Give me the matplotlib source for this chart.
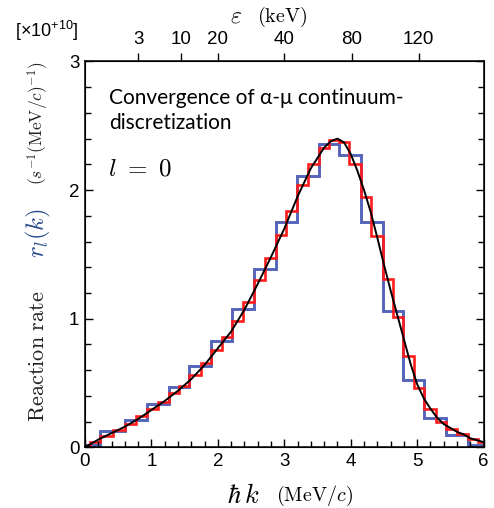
import matplotlib
matplotlib.use("Agg")
import matplotlib.pyplot as plt
from matplotlib.ticker import MultipleLocator

# smooth (converged) reaction rate
k_curve = [0.0, 0.2, 0.4, 0.6, 0.8, 1.0, 1.2, 1.4, 1.6, 1.8, 2.0, 2.2, 2.4, 2.6,
           2.8, 3.0, 3.2, 3.4, 3.6, 3.7, 3.8, 3.9, 4.0, 4.1, 4.2, 4.3, 4.4, 4.5,
           4.6, 4.7, 4.8, 4.9, 5.0, 5.1, 5.2, 5.3, 5.4, 5.5, 5.6, 5.7, 5.8, 5.9, 6.0]
r_curve = [0.0, 0.06, 0.11, 0.16, 0.22, 0.29, 0.36, 0.44, 0.53, 0.64, 0.77, 0.90,
           1.07, 1.27, 1.48, 1.70, 1.95, 2.17, 2.33, 2.38, 2.40, 2.37, 2.28, 2.15,
           2.00, 1.83, 1.63, 1.42, 1.22, 1.03, 0.84, 0.65, 0.49, 0.38, 0.30, 0.23,
           0.18, 0.15, 0.12, 0.10, 0.07, 0.055, 0.04]

# coarse discretization (blue)
blue_edges = [0.0, 0.23, 0.60, 0.93, 1.27, 1.57, 1.90, 2.22, 2.54, 2.88, 3.19,
              3.52, 3.82, 4.15, 4.48, 4.79, 5.11, 5.44, 5.76, 6.0]
blue_rate = [0.02, 0.13, 0.21, 0.34, 0.47, 0.63, 0.83, 1.075, 1.385, 1.75, 2.11,
             2.36, 2.27, 1.75, 1.06, 0.525, 0.227, 0.093, 0.02]

# fine discretization (red)
red_edges = [0.0, 0.07, 0.23, 0.42, 0.60, 0.77, 0.93, 1.10, 1.27, 1.42, 1.57,
             1.74, 1.90, 2.06, 2.22, 2.38, 2.54, 2.71, 2.88, 3.03, 3.19, 3.36,
             3.52, 3.67, 3.82, 3.98, 4.15, 4.31, 4.48, 4.63, 4.79, 4.95, 5.11,
             5.28, 5.44, 5.60, 5.76, 5.92, 6.0]
red_rate = [0.01, 0.045, 0.09, 0.135, 0.185, 0.24, 0.295, 0.355, 0.42, 0.48,
            0.56, 0.655, 0.76, 0.86, 0.98, 1.13, 1.30, 1.47, 1.65, 1.84, 2.04,
            2.20, 2.33, 2.39, 2.37, 2.20, 1.95, 1.64, 1.31, 1.01, 0.71, 0.46,
            0.30, 0.20, 0.14, 0.10, 0.065, 0.045]

# top axis: energy labels
top_pos = [0.80, 1.445, 2.0, 2.99, 4.02, 5.02]
top_lab = ["3", "10", "20", "40", "80", "120"]

plt.rcParams["mathtext.fontset"] = "cm"
plt.rcParams["font.family"] = ["Liberation Sans", "DejaVu Sans"]
plt.rcParams["mathtext.rm"] = "Liberation Sans"

fig = plt.figure(figsize=(4.94, 5.08), dpi=100)
ax = fig.add_axes([0.172, 0.1195, 0.807, 0.7595])

ax.stairs(blue_rate, blue_edges, color="#5464b8", lw=2.1, baseline=0)
ax.stairs(red_rate, red_edges, color="#ff1c1c", lw=1.9, baseline=0)
ax.plot(k_curve, r_curve, color="black", lw=1.4)

ax.set_xlim(0, 6)
ax.set_ylim(0, 3)
ax.set_xticks(range(7))
ax.set_yticks([0, 1, 2, 3])
ax.xaxis.set_minor_locator(MultipleLocator(0.2))
ax.yaxis.set_minor_locator(MultipleLocator(0.2))
ax.tick_params(which="both", direction="in", top=True, right=True, width=1,
               labelsize=13.5, pad=4)
ax.tick_params(which="major", length=6)
ax.tick_params(which="minor", length=4.5)
for s in ax.spines.values():
    s.set_linewidth(1.1)

ax2 = ax.twiny()
ax2.set_xlim(0, 6)
ax2.set_xticks(top_pos, top_lab)
ax2.tick_params(direction="out", length=6, width=1, labelsize=13.5, pad=4)

# labels
fig.text(0.077, 0.299, r"$\mathrm{Reaction\ rate}$", rotation=90,
         ha="center", va="center", fontsize=16, color="#222222")
fig.text(0.077, 0.542, r"$r_l(k)$", rotation=90, ha="center", va="center",
         fontsize=18, color="#2b4c8c")
fig.text(0.077, 0.758, r"$(s^{-1}(\mathrm{MeV}/c)^{-1})$", rotation=90,
         ha="center", va="center", fontsize=12.5, color="#222222")

fig.text(0.492, 0.024, r"$\hbar\, k$", ha="center", va="center", fontsize=19)
fig.text(0.636, 0.024, r"$(\mathrm{MeV}/c)$", ha="center", va="center",
         fontsize=14.5)
fig.text(0.478, 0.967, r"$\varepsilon$", ha="center", va="center", fontsize=17)
fig.text(0.572, 0.967, r"$(\mathrm{keV})$", ha="center", va="center",
         fontsize=14.5)
fig.text(0.095, 0.94, r"[×10$^{+10}$]", ha="center", va="center", fontsize=13,
         math_fontfamily="custom")

fig.text(0.2206, 0.807, "Convergence of α-μ continuum-", ha="left",
         va="center", fontsize=15, family="Lato")
fig.text(0.2206, 0.757, "discretization", ha="left", va="center",
         fontsize=15, family="Lato")
fig.text(0.219, 0.669, r"$l\ =\ 0$", ha="left", va="center", fontsize=18)

fig.savefig("out.png", dpi=100)
